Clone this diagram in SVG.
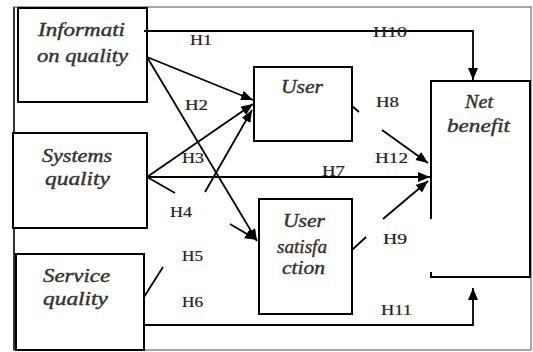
<svg xmlns="http://www.w3.org/2000/svg" width="533" height="352" viewBox="0 0 533 352">
<style>
.box{fill:#fff;stroke:#000;stroke-width:2}
.ln{fill:none;stroke:#000;stroke-width:1.8}
.nt{font-family:"Liberation Serif",serif;font-style:italic;font-size:18px;fill:#333;stroke:#333;stroke-width:0.4}
.lb{font-family:"Liberation Serif",serif;font-size:15px;fill:#222;stroke:#222;stroke-width:0.2}
</style>
<defs>
<marker id="ah" markerUnits="userSpaceOnUse" markerWidth="14" markerHeight="12" refX="12" refY="5" orient="auto">
<path d="M0,0 L12,5 L0,10 Z" fill="#000"/>
</marker>
</defs>
<rect x="0" y="0" width="533" height="352" fill="#fff"/>
<rect x="14" y="7" width="517" height="343" fill="none" stroke="#888" stroke-width="1.5"/>
<line x1="14" y1="7" x2="14" y2="350" stroke="#333" stroke-width="2"/>

<g id="info">
<rect class="box" x="18" y="8" width="129" height="94"/>
<text class="nt" x="38" y="36" textLength="87" lengthAdjust="spacingAndGlyphs">Informati</text>
<text class="nt" x="37" y="62" textLength="91" lengthAdjust="spacingAndGlyphs">on quality</text>
</g>
<g id="systems">
<rect class="box" x="13" y="133" width="134" height="95"/>
<text class="nt" x="42" y="162" textLength="70" lengthAdjust="spacingAndGlyphs">Systems</text>
<text class="nt" x="45" y="185" textLength="65" lengthAdjust="spacingAndGlyphs">quality</text>
</g>
<g id="service">
<rect class="box" x="16" y="254" width="128" height="96"/>
<text class="nt" x="43" y="282" textLength="67" lengthAdjust="spacingAndGlyphs">Service</text>
<text class="nt" x="43" y="305" textLength="65" lengthAdjust="spacingAndGlyphs">quality</text>
</g>
<g id="user">
<rect class="box" x="254" y="67" width="98" height="74"/>
<text class="nt" x="281" y="93" textLength="42" lengthAdjust="spacingAndGlyphs">User</text>
</g>
<g id="usersat">
<rect class="box" x="259" y="199" width="93" height="115"/>
<text class="nt" x="283" y="227" textLength="42" lengthAdjust="spacingAndGlyphs">User</text>
<text class="nt" x="277" y="253" textLength="50" lengthAdjust="spacingAndGlyphs">satisfa</text>
<text class="nt" x="282" y="274" textLength="43" lengthAdjust="spacingAndGlyphs">ction</text>
</g>
<g id="net">
<path d="M431,219 V81 H530 V277 H431 V272" fill="none" stroke="#000" stroke-width="2"/>
<text class="nt" x="465" y="108" textLength="28" lengthAdjust="spacingAndGlyphs">Net</text>
<text class="nt" x="447" y="132" textLength="63" lengthAdjust="spacingAndGlyphs">benefit</text>
</g>

<g id="connectors">
<path class="ln" d="M144,31 H473 V80" marker-end="url(#ah)"/>
<path class="ln" d="M147,57 L253,100" marker-end="url(#ah)"/>
<path class="ln" d="M147,57 L257,241" marker-end="url(#ah)"/>
<path class="ln" d="M147,177 L253,104" marker-end="url(#ah)"/>
<path class="ln" d="M147,177 L430,177" marker-end="url(#ah)"/>
<path class="ln" d="M147,177 L175,193"/>
<path class="ln" d="M230,224 L257,240" marker-end="url(#ah)"/>
<path class="ln" d="M144,297 L163,267"/>
<path class="ln" d="M205,192 L252,110" marker-end="url(#ah)"/>
<path class="ln" d="M144,325 H473 V288" marker-end="url(#ah)"/>
<path class="ln" d="M352,106 L359,112"/>
<path class="ln" d="M382,130 L428,163" marker-end="url(#ah)"/>
<path class="ln" d="M352,250 L366,237"/>
<path class="ln" d="M383,219 L428,181" marker-end="url(#ah)"/>
</g>

<g id="labels">
<text class="lb" x="190" y="45" textLength="22" lengthAdjust="spacingAndGlyphs">H1</text>
<text class="lb" x="373" y="37" textLength="34" lengthAdjust="spacingAndGlyphs">H10</text>
<text class="lb" x="185" y="110" textLength="23" lengthAdjust="spacingAndGlyphs">H2</text>
<text class="lb" x="182" y="163" textLength="22" lengthAdjust="spacingAndGlyphs">H3</text>
<text class="lb" x="170" y="217" textLength="22" lengthAdjust="spacingAndGlyphs">H4</text>
<text class="lb" x="182" y="261" textLength="21" lengthAdjust="spacingAndGlyphs">H5</text>
<text class="lb" x="182" y="307" textLength="21" lengthAdjust="spacingAndGlyphs">H6</text>
<text class="lb" x="322" y="176" textLength="23" lengthAdjust="spacingAndGlyphs">H7</text>
<text class="lb" x="376" y="107" textLength="23" lengthAdjust="spacingAndGlyphs">H8</text>
<text class="lb" x="375" y="163" textLength="33" lengthAdjust="spacingAndGlyphs">H12</text>
<text class="lb" x="383" y="244" textLength="24" lengthAdjust="spacingAndGlyphs">H9</text>
<text class="lb" x="381" y="315" textLength="31" lengthAdjust="spacingAndGlyphs">H11</text>
</g>
</svg>
